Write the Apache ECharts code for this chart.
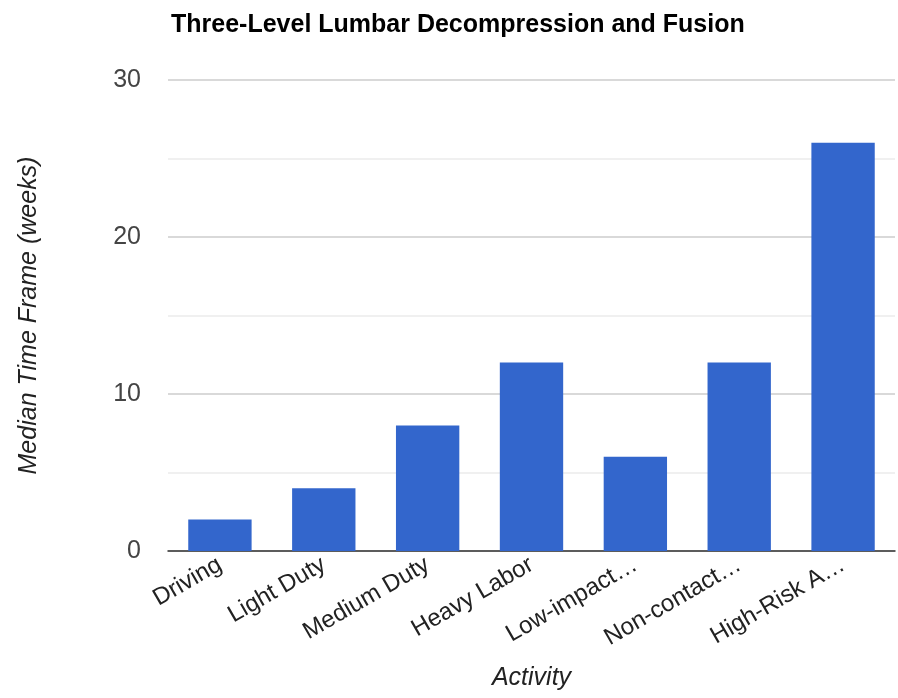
<!DOCTYPE html>
<html>
<head>
<meta charset="utf-8">
<script src="https://cdn.jsdelivr.net/npm/echarts@6/dist/echarts.min.js"></script>
<style>
  html, body { margin: 0; padding: 0; background: #fff; }
  #chart { width: 898px; height: 698px; }
</style>
</head>
<body>
<div id="chart"></div>
<script>
// Activity categories and median return times (weeks)
const activities = ['Driving', 'Light Duty', 'Medium Duty', 'Heavy Labor', 'Low-impact…', 'Non-contact…', 'High-Risk A…'];
const medianWeeks = [2, 4, 8, 12, 6, 12, 26];
const yTickLabels = [0, 10, 20, 30];

const chart = echarts.init(document.getElementById('chart'), null, { renderer: 'canvas' });
const font = '"Liberation Sans", Arial, sans-serif';

chart.setOption({
  animation: false,
  title: {
    text: 'Three-Level Lumbar Decompression and Fusion',
    left: 166,
    top: 8,
    textStyle: { fontFamily: font, fontSize: 25, fontWeight: 'bold', color: '#000' }
  },
  grid: { left: 168, right: 3, top: 80, bottom: 147 },
  xAxis: {
    type: 'category',
    data: activities,
    name: 'Activity',
    nameLocation: 'middle',
    nameGap: 115,
    nameTextStyle: { fontFamily: font, fontSize: 25, fontStyle: 'italic', color: '#222' },
    axisLine: { lineStyle: { color: '#333', width: 1.5 } },
    axisTick: { show: false },
    axisLabel: { rotate: 30, interval: 0, margin: 12, fontFamily: font, fontSize: 24, color: '#222' }
  },
  yAxis: {
    type: 'value',
    min: 0,
    max: 30,
    interval: 5,
    name: 'Median Time Frame (weeks)',
    nameLocation: 'middle',
    nameGap: 126,
    nameTextStyle: { fontFamily: font, fontSize: 25, fontStyle: 'italic', color: '#222' },
    axisLine: { show: false },
    axisTick: { show: false },
    axisLabel: {
      margin: 27,
      fontFamily: font, fontSize: 25, color: '#444',
      formatter: v => (yTickLabels.indexOf(v) >= 0 ? String(v) : '')
    },
    splitLine: { lineStyle: { color: ['#cccccc', '#ebebeb'], width: 1.5 } }
  },
  series: [{
    type: 'bar',
    data: medianWeeks,
    barWidth: '61%',
    itemStyle: { color: '#3366cc' }
  }]
});
</script>
</body>
</html>
